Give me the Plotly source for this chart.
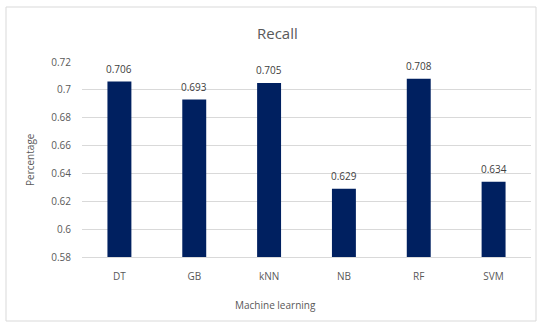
import plotly.graph_objects as go

models = ["DT", "GB", "kNN", "NB", "RF", "SVM"]
recall = [0.706, 0.693, 0.705, 0.629, 0.708, 0.634]
y_ticks = [0.58, 0.6, 0.62, 0.64, 0.66, 0.68, 0.7, 0.72]
y_tick_text = ["0.58", "0.6", "0.62", "0.64", "0.66", "0.68", "0.7", "0.72"]

W, H = 537, 323
L, R, T, B = 82, 6, 62, 66
pw, ph = W - L - R, H - T - B

def px_x(x):
    return (x - L) / pw

def px_y(y):
    return (H - B - y) / ph

fig = go.Figure(
    go.Bar(
        x=models,
        y=recall,
        width=0.32,
        marker=dict(color="#002060", line=dict(width=0)),
        hoverinfo="x+y",
    )
)

# value labels sitting above each bar
value_labels = [
    dict(
        x=m,
        y=v,
        xref="x",
        yref="y",
        text=f"{v:.3f}",
        showarrow=False,
        yanchor="middle",
        yshift=13,
        font=dict(size=10, color="#404040"),
    )
    for m, v in zip(models, recall)
]

fig.update_layout(
    width=W,
    height=H,
    margin=dict(l=L, r=R, t=T, b=B),
    paper_bgcolor="white",
    plot_bgcolor="white",
    showlegend=False,
    font=dict(family="Open Sans, sans-serif", color="#595959"),
    xaxis=dict(
        showgrid=False,
        showline=True,
        linecolor="#d9d9d9",
        linewidth=1,
        ticks="",
        ticklabelstandoff=10,
        tickfont=dict(size=10, color="#595959"),
    ),
    yaxis=dict(
        range=[0.58, 0.72],
        tickvals=y_ticks,
        ticktext=y_tick_text,
        showgrid=True,
        gridcolor="#d9d9d9",
        gridwidth=1,
        zeroline=False,
        showline=False,
        ticks="",
        ticklabelstandoff=10,
        tickfont=dict(size=10, color="#595959"),
    ),
    shapes=[
        dict(
            type="rect",
            xref="paper",
            yref="paper",
            x0=px_x(6),
            x1=px_x(536),
            y0=px_y(321),
            y1=px_y(7),
            line=dict(color="#d9d9d9", width=1),
            fillcolor="rgba(0,0,0,0)",
            layer="below",
        )
    ],
    annotations=value_labels + [
        dict(
            text="Recall",
            xref="paper",
            yref="paper",
            x=px_x(277),
            y=px_y(33),
            xanchor="center",
            yanchor="middle",
            showarrow=False,
            font=dict(size=15, color="#595959"),
        ),
        dict(
            text="Machine learning",
            xref="paper",
            yref="paper",
            x=px_x(275),
            y=px_y(305),
            xanchor="center",
            yanchor="middle",
            showarrow=False,
            font=dict(size=10, color="#595959"),
        ),
        dict(
            text="Percentage",
            xref="paper",
            yref="paper",
            x=px_x(30),
            y=px_y(160),
            xanchor="center",
            yanchor="middle",
            textangle=-90,
            showarrow=False,
            font=dict(size=10, color="#595959"),
        ),
    ],
)

fig.write_html("out.html")
